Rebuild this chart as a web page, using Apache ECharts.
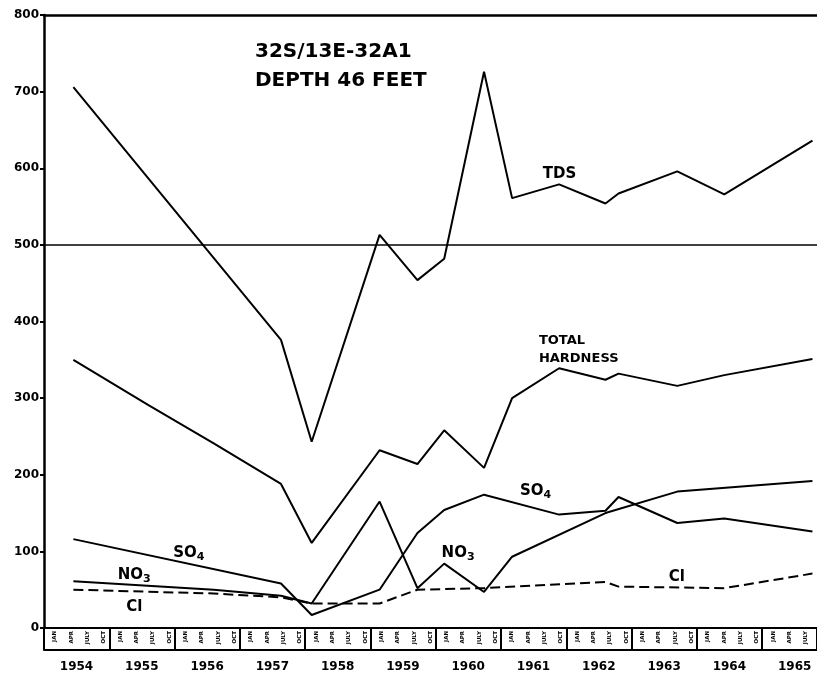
<!DOCTYPE html>
<html>
<head>
<meta charset="utf-8">
<script src="https://cdn.jsdelivr.net/npm/echarts@6/dist/echarts.min.js"></script>
<style>
  html, body { margin: 0; padding: 0; background: #fff; }
  #chart { width: 817px; height: 677px; }
</style>
</head>
<body>
<div id="chart"></div>
<script>
// sample dates as decimal years, shared by all constituents (null = not drawn at that date)
const sampleDates = [1954.45, 1955.6, 1956.6, 1957.63, 1958.1, 1959.14, 1959.72, 1960.13, 1960.74, 1961.17, 1961.89, 1962.6, 1962.8, 1963.7, 1964.42, 1965.77];
const tds      = [706, null, null, 376, 243, 513, 454, 482, 726, 561, 579, 554, 567, 596, 566, 636];
const hardness = [350, 291, 241, 188, 111, 232, 214, 258, 209, 300, 339, 324, 332, 316, 330, 351];
const so4      = [116, null, null, 58, 17, 50, 124, 154, 174, null, 148, 153, 171, 137, 143, 126];
const no3      = [61, null, 50, 42, 32, 165, 52, 84, 47, 93, null, 150, null, 178, null, 192];
const cl       = [50, null, 45, 40, 32, 32, 50, null, 52, null, null, 60, 54, null, 52, 71];

const limitValue = 500;
const quarterLabels = ['JAN', 'APR', 'JULY', 'OCT'];

// curve labels, placed in data units (year, value)
const curveLabels = [
  { text: 'TDS', t: 1961.64, v: 593 },
  { text: 'TOTAL', t: 1961.58, v: 375, small: true },
  { text: 'HARDNESS', t: 1961.58, v: 351, small: true },
  { text: 'SO{s|4}', t: 1955.98, v: 98 },
  { text: 'NO{s|3}', t: 1955.13, v: 69 },
  { text: 'Cl', t: 1955.26, v: 27 },
  { text: 'NO{s|3}', t: 1960.09, v: 98 },
  { text: 'SO{s|4}', t: 1961.29, v: 178 },
  { text: 'Cl', t: 1963.57, v: 67 }
];

const FONT = 'DejaVu Sans';
const xMin = 1954, xMax = 1965.84;

function pairs(vals) {
  return sampleDates.map((d, i) => [d, vals[i]]).filter(p => p[1] != null);
}

function lineSeries(name, vals, dashed) {
  return {
    name: name,
    type: 'line',
    data: pairs(vals),
    symbol: 'none',
    silent: true,
    lineStyle: { color: '#000', width: 2, type: dashed ? [10, 5] : 'solid' }
  };
}

const chart = echarts.init(document.getElementById('chart'));

const tdsSeries = lineSeries('TDS', tds);
tdsSeries.markLine = {
  symbol: ['none', 'none'],
  silent: true,
  label: { show: false },
  lineStyle: { color: '#000', type: 'solid', width: 1.5 },
  data: [{ yAxis: limitValue }]
};

chart.setOption({
  animation: false,
  backgroundColor: '#fff',
  title: {
    text: '32S/13E-32A1\nDEPTH 46 FEET',
    left: 250,
    top: 32,
    textStyle: { fontFamily: FONT, fontWeight: 'bold', fontSize: 20, lineHeight: 29, color: '#000' }
  },
  grid: { left: 44, right: 0, top: 15, bottom: 49, containLabel: false, outerBoundsMode: 'none' },
  xAxis: [
    {
      // year boxes and year labels
      type: 'value', min: xMin, max: xMax, interval: 1, position: 'bottom',
      axisLine: { show: true, lineStyle: { color: '#000', width: 2 } },
      axisTick: { show: true, inside: false, length: 22, lineStyle: { color: '#000', width: 2 } },
      splitLine: { show: false },
      axisLabel: {
        color: '#000', fontFamily: FONT, fontWeight: 'bold', fontSize: 12, margin: 33,
        align: 'center', padding: [0, 0, 0, 65],
        formatter: v => (Math.abs(v - Math.round(v)) < 1e-6 ? String(Math.round(v)) : '')
      }
    },
    {
      // bottom edge of the month strip
      type: 'value', min: xMin, max: xMax, position: 'bottom', offset: 22,
      axisLine: { show: true, lineStyle: { color: '#000', width: 2 } },
      axisTick: { show: false }, axisLabel: { show: false }, splitLine: { show: false }
    },
    {
      // tiny month labels inside the strip
      type: 'value', min: xMin, max: xMax, interval: 0.25, position: 'bottom',
      axisLine: { show: false }, axisTick: { show: false }, splitLine: { show: false },
      axisLabel: {
        color: '#000', fontFamily: FONT, fontWeight: 'bold', fontSize: 5.5, rotate: 90, margin: 3,
        verticalAlign: 'top', padding: [8, 0, 0, 0],
        formatter: v => {
          const q = v * 4;
          if (Math.abs(q - Math.round(q)) > 1e-6) return '';
          return quarterLabels[((Math.round(q) % 4) + 4) % 4];
        }
      }
    },
    {
      // top frame line at 800
      type: 'value', min: xMin, max: xMax, position: 'top',
      axisLine: { show: true, lineStyle: { color: '#000', width: 2.5 } },
      axisTick: { show: false }, axisLabel: { show: false }, splitLine: { show: false }
    }
  ],
  yAxis: {
    type: 'value', min: 0, max: 800, interval: 100,
    axisLine: { show: true, lineStyle: { color: '#000', width: 2.5 } },
    axisTick: { show: true, inside: false, length: 4, lineStyle: { color: '#000', width: 2 } },
    splitLine: { show: false },
    axisLabel: { color: '#000', fontFamily: FONT, fontWeight: 'bold', fontSize: 12, margin: 5 }
  },
  series: [
    tdsSeries,
    lineSeries('Total hardness', hardness),
    lineSeries('SO4', so4),
    lineSeries('NO3', no3),
    lineSeries('Cl', cl, true)
  ]
});

chart.setOption({
  graphic: curveLabels.map(l => {
    const p = chart.convertToPixel({ gridIndex: 0 }, [l.t, l.v]);
    return {
      type: 'text', x: p[0], y: p[1], silent: true,
      style: {
        text: l.text, fill: '#000', fontFamily: FONT, fontWeight: 'bold',
        fontSize: l.small ? 13 : 15, align: 'left', verticalAlign: 'middle',
        rich: { s: { fontFamily: FONT, fontWeight: 'bold', fontSize: 11, padding: [8, 0, 0, 0] } }
      }
    };
  })
});
</script>
</body>
</html>
